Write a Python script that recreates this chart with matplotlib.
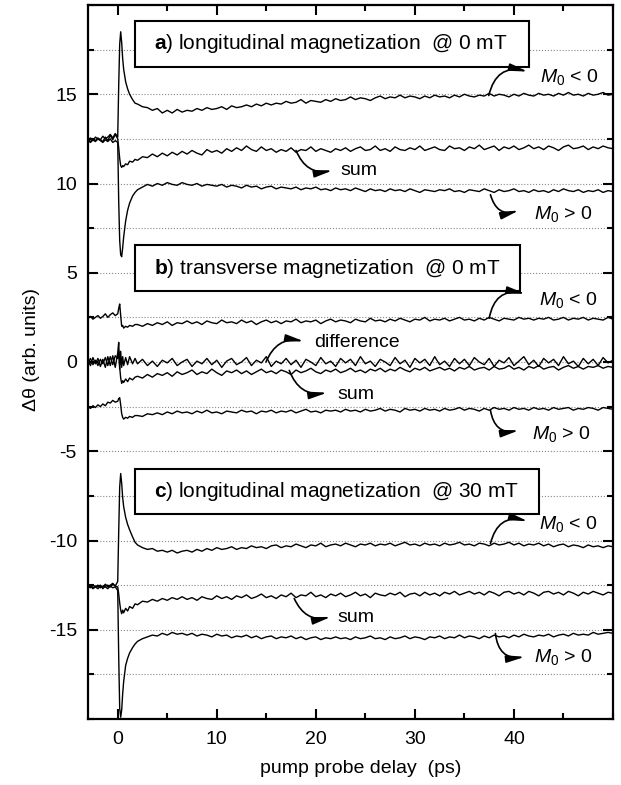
#!/usr/bin/env python3
"""
Kerr rotation vs pump probe delay: longitudinal / transverse magnetization traces.
Writes out.png
"""

import numpy as np
import matplotlib
matplotlib.use('Agg')
import matplotlib.pyplot as plt
from matplotlib.patches import Rectangle, FancyArrowPatch
from matplotlib.ticker import MultipleLocator, FixedLocator

plt.rcParams['font.family'] = ['Liberation Sans', 'DejaVu Sans']
plt.rcParams['mathtext.fontset'] = 'custom'
plt.rcParams['mathtext.rm'] = 'Liberation Sans'
plt.rcParams['mathtext.it'] = 'Liberation Sans:italic'
plt.rcParams['mathtext.bf'] = 'Liberation Sans:bold'
plt.rcParams['axes.unicode_minus'] = False

# delay grid (ps): dense around zero, 0.5 ps steps afterwards
t_early = [-3.0, -2.75, -2.5, -2.25, -2.0, -1.75, -1.5, -1.25, -1.0, -0.75, -0.5, -0.25,
           0.0, 0.1, 0.2, 0.3, 0.4, 0.5, 0.6, 0.8, 1.0, 1.2, 1.5, 1.75]
t_tail = np.arange(2.0, 50.01, 0.5)
delay = np.concatenate([t_early, t_tail])

# --- a) longitudinal @ 0 mT ---
a_neg = [12.45, 12.55, 12.40, 12.60, 12.50, 12.45, 12.65, 12.50, 12.60, 12.75, 12.55, 12.80,
         12.60, 15.50, 17.80, 18.50, 17.90, 17.00, 16.40, 15.70, 15.30, 15.00, 14.70, 14.50,
         14.45, 14.30, 14.25, 14.10, 14.20, 13.95, 14.10, 13.95, 14.15, 14.00,
         14.10, 14.05, 14.20, 14.10, 14.25, 14.15, 14.20, 14.30, 14.15, 14.35,
         14.25, 14.30, 14.40, 14.30, 14.45, 14.35, 14.50, 14.40, 14.50, 14.45,
         14.60, 14.50, 14.55, 14.70, 14.50, 14.65, 14.60, 14.55, 14.70, 14.60,
         14.75, 14.65, 14.70, 14.85, 14.70, 14.80, 14.75, 14.65, 14.80, 14.90,
         14.75, 14.85, 14.80, 14.95, 14.80, 14.90, 14.85, 14.75, 14.90, 14.80,
         14.95, 14.85, 14.90, 14.80, 14.95, 14.85, 15.00, 14.90, 14.85, 14.95,
         14.90, 15.05, 14.90, 15.00, 14.95, 14.85, 15.00, 14.90, 15.05, 14.95,
         14.90, 15.05, 14.95, 15.00, 14.90, 15.05, 14.95, 15.10, 14.95, 15.00,
         14.90, 15.05, 14.95, 15.00, 15.10, 14.95, 15.00]
a_pos = [12.40, 12.30, 12.45, 12.35, 12.50, 12.40, 12.30, 12.45, 12.35, 12.50, 12.30, 12.40,
         12.30, 9.00, 6.80, 6.00, 5.90, 6.40, 7.00, 7.90, 8.50, 8.90, 9.30, 9.50,
         9.65, 9.80, 9.95, 9.85, 10.00, 9.90, 10.05, 9.95, 9.90, 10.05,
         9.95, 9.90, 10.00, 9.85, 9.95, 9.90, 9.85, 9.95, 9.80, 9.90,
         9.85, 9.75, 9.90, 9.80, 9.85, 9.70, 9.80, 9.85, 9.70, 9.80,
         9.75, 9.70, 9.80, 9.65, 9.75, 9.70, 9.80, 9.65, 9.70, 9.60,
         9.75, 9.65, 9.70, 9.60, 9.75, 9.65, 9.55, 9.70, 9.60, 9.65,
         9.55, 9.70, 9.60, 9.65, 9.55, 9.70, 9.60, 9.50, 9.65, 9.60,
         9.55, 9.65, 9.60, 9.70, 9.55, 9.60, 9.50, 9.65, 9.60, 9.55,
         9.70, 9.60, 9.50, 9.65, 9.55, 9.60, 9.70, 9.55, 9.60, 9.50,
         9.65, 9.55, 9.60, 9.50, 9.65, 9.55, 9.70, 9.60, 9.55, 9.65,
         9.50, 9.60, 9.55, 9.65, 9.50, 9.60, 9.55]
a_sum = [12.45, 12.35, 12.50, 12.40, 12.55, 12.45, 12.35, 12.60, 12.40, 12.70, 12.45, 12.75,
         12.50, 12.00, 11.40, 11.00, 10.90, 11.00, 10.95, 11.10, 11.05, 11.25, 11.20, 11.35,
         11.30, 11.50, 11.45, 11.65, 11.50, 11.70, 11.55, 11.75, 11.60, 11.80,
         11.65, 11.85, 11.70, 11.60, 11.90, 11.75, 11.85, 11.70, 11.95, 11.80,
         12.00, 11.85, 12.10, 11.90, 11.80, 12.05, 11.85, 11.95, 11.75, 11.90,
         11.80, 12.00, 11.75, 11.90, 11.85, 12.05, 11.80, 11.95, 11.85, 11.75,
         11.95, 11.85, 12.00, 11.80, 11.95, 12.05, 11.85, 11.90, 12.10, 11.85,
         11.95, 11.80, 12.05, 11.90, 11.85, 12.00, 11.90, 12.10, 11.85, 11.95,
         12.05, 11.90, 11.85, 12.10, 11.95, 12.00, 11.85, 12.05, 11.95, 12.15,
         11.90, 12.00, 12.10, 11.85, 12.05, 11.95, 12.10, 11.90, 12.00, 12.15,
         11.95, 12.05, 11.90, 12.10, 12.00, 11.85, 12.05, 12.15, 11.95, 12.00,
         12.10, 11.90, 12.05, 11.95, 12.10, 12.00, 11.95]

# --- b) transverse @ 0 mT ---
b_neg = [2.45, 2.55, 2.40, 2.50, 2.60, 2.45, 2.55, 2.70, 2.50, 2.65, 2.75, 2.60,
         2.70, 3.00, 3.25, 2.60, 2.00, 2.05, 1.90, 2.00, 1.95, 2.05, 2.00, 2.10,
         2.10, 2.00, 2.15, 2.05, 2.20, 2.10, 2.25, 2.05, 2.20, 2.15,
         2.30, 2.15, 2.25, 2.10, 2.30, 2.20, 2.15, 2.35, 2.20, 2.25,
         2.15, 2.35, 2.20, 2.30, 2.10, 2.25, 2.35, 2.20, 2.30, 2.15,
         2.30, 2.25, 2.40, 2.20, 2.30, 2.25, 2.35, 2.15, 2.30, 2.40,
         2.25, 2.35, 2.30, 2.20, 2.40, 2.30, 2.25, 2.45, 2.30, 2.35,
         2.25, 2.40, 2.30, 2.45, 2.35, 2.25, 2.40, 2.35, 2.50, 2.30,
         2.40, 2.35, 2.45, 2.30, 2.40, 2.50, 2.35, 2.40, 2.30, 2.45,
         2.35, 2.50, 2.40, 2.30, 2.45, 2.40, 2.35, 2.50, 2.40, 2.45,
         2.35, 2.45, 2.40, 2.50, 2.35, 2.40, 2.50, 2.35, 2.45, 2.40,
         2.50, 2.35, 2.45, 2.40, 2.35, 2.50, 2.40]
b_diff = [0.10, -0.20, 0.25, -0.10, 0.20, -0.25, 0.15, -0.30, 0.30, -0.20, 0.35, -0.30,
          0.50, 1.10, -0.40, 0.60, -0.30, 0.30, -0.20, 0.25, -0.15, 0.30, -0.10, 0.20,
          -0.10, 0.15, -0.20, 0.05, -0.25, 0.10, -0.05, 0.20, -0.20, 0.00,
          0.15, -0.25, 0.05, -0.10, 0.20, -0.15, 0.10, -0.30, 0.05, 0.20,
          -0.15, 0.00, 0.25, -0.20, 0.10, -0.05, 0.30, -0.25, 0.05, -0.10,
          0.20, -0.15, 0.10, -0.30, 0.15, 0.00, -0.20, 0.25, -0.10, 0.05,
          -0.25, 0.20, -0.05, 0.15, -0.20, 0.30, -0.10, 0.05, -0.25, 0.15,
          0.00, -0.20, 0.25, -0.10, 0.10, -0.30, 0.20, -0.05, 0.15, -0.20,
          0.30, -0.15, 0.05, -0.25, 0.20, -0.10, 0.15, -0.20, 0.25, 0.00,
          -0.15, 0.20, -0.25, 0.10, -0.05, 0.25, -0.20, 0.05, 0.30, -0.15,
          0.10, -0.25, 0.20, -0.05, 0.15, -0.20, 0.30, -0.10, 0.05, -0.25,
          0.20, -0.10, 0.15, -0.20, 0.25, -0.05, 0.10]
b_sum = [-0.05, 0.20, -0.15, 0.10, -0.20, 0.15, -0.10, 0.25, -0.20, 0.30, -0.15, 0.35,
         0.20, 0.60, -0.30, -0.90, -1.20, -1.05, -1.15, -0.95, -1.10, -0.90, -1.00, -0.85,
         -0.80, -0.90, -0.70, -0.85, -0.65, -0.75, -0.60, -0.80, -0.55, -0.70,
         -0.60, -0.45, -0.70, -0.55, -0.65, -0.40, -0.60, -0.75, -0.50, -0.60,
         -0.45, -0.65, -0.50, -0.70, -0.55, -0.40, -0.60, -0.50, -0.65, -0.45,
         -0.55, -0.70, -0.45, -0.60, -0.50, -0.35, -0.55, -0.65, -0.45, -0.55,
         -0.40, -0.60, -0.50, -0.35, -0.55, -0.45, -0.60, -0.40, -0.50, -0.35,
         -0.55, -0.40, -0.50, -0.30, -0.45, -0.55, -0.35, -0.45, -0.30, -0.50,
         -0.40, -0.30, -0.45, -0.35, -0.50, -0.30, -0.40, -0.25, -0.45, -0.35,
         -0.30, -0.45, -0.25, -0.40, -0.35, -0.20, -0.40, -0.30, -0.45, -0.25,
         -0.35, -0.20, -0.40, -0.30, -0.25, -0.45, -0.30, -0.20, -0.35, -0.25,
         -0.40, -0.25, -0.30, -0.20, -0.35, -0.25, -0.30]
b_pos = [-2.50, -2.60, -2.45, -2.55, -2.40, -2.50, -2.35, -2.45, -2.25, -2.30, -2.15, -2.25,
         -2.20, -2.05, -2.00, -2.40, -2.90, -3.10, -3.20, -3.10, -3.15, -3.05, -3.10, -3.00,
         -3.00, -3.05, -2.90, -2.95, -2.85, -2.95, -2.80, -2.90, -2.75, -2.85,
         -2.80, -2.90, -2.75, -2.85, -2.70, -2.85, -2.80, -2.90, -2.75, -2.80,
         -2.85, -2.70, -2.80, -2.75, -2.90, -2.75, -2.80, -2.70, -2.85, -2.75,
         -2.80, -2.70, -2.85, -2.75, -2.65, -2.80, -2.75, -2.85, -2.70, -2.75,
         -2.70, -2.80, -2.65, -2.75, -2.70, -2.80, -2.65, -2.75, -2.70, -2.60,
         -2.75, -2.65, -2.70, -2.80, -2.60, -2.70, -2.65, -2.75, -2.60, -2.70,
         -2.65, -2.75, -2.60, -2.70, -2.65, -2.55, -2.70, -2.60, -2.65, -2.75,
         -2.60, -2.70, -2.55, -2.65, -2.60, -2.70, -2.55, -2.65, -2.60, -2.70,
         -2.55, -2.65, -2.60, -2.70, -2.55, -2.65, -2.60, -2.55, -2.70, -2.60,
         -2.65, -2.55, -2.60, -2.70, -2.55, -2.60, -2.65]

# --- c) longitudinal @ 30 mT ---
c_neg = [-12.55, -12.65, -12.50, -12.60, -12.70, -12.55, -12.60, -12.45, -12.60, -12.50, -12.40, -12.55,
         -12.30, -9.50, -7.00, -6.25, -6.80, -7.60, -8.10, -8.70, -9.10, -9.40, -9.80, -10.10,
         -10.25, -10.40, -10.50, -10.45, -10.60, -10.55, -10.65, -10.55, -10.70, -10.60,
         -10.55, -10.65, -10.50, -10.60, -10.45, -10.55, -10.40, -10.50, -10.45, -10.35,
         -10.50, -10.40, -10.45, -10.30, -10.40, -10.35, -10.45, -10.30, -10.25, -10.40,
         -10.30, -10.35, -10.20, -10.30, -10.40, -10.25, -10.30, -10.15, -10.35, -10.25,
         -10.20, -10.30, -10.15, -10.25, -10.35, -10.20, -10.25, -10.15, -10.30, -10.20,
         -10.25, -10.15, -10.30, -10.20, -10.10, -10.25, -10.20, -10.30, -10.15, -10.25,
         -10.20, -10.30, -10.15, -10.25, -10.20, -10.10, -10.25, -10.20, -10.30, -10.15,
         -10.20, -10.30, -10.15, -10.25, -10.20, -10.10, -10.25, -10.15, -10.30, -10.20,
         -10.25, -10.15, -10.30, -10.20, -10.35, -10.25, -10.20, -10.35, -10.25, -10.30,
         -10.40, -10.25, -10.35, -10.30, -10.40, -10.30, -10.35]
c_sum = [-12.60, -12.50, -12.65, -12.55, -12.60, -12.50, -12.70, -12.55, -12.50, -12.60, -12.45, -12.55,
         -12.60, -13.00, -13.50, -13.90, -14.10, -13.90, -14.05, -13.80, -13.95, -13.70, -13.80, -13.55,
         -13.60, -13.40, -13.45, -13.30, -13.40, -13.25, -13.35, -13.20, -13.30, -13.15,
         -13.30, -13.20, -13.35, -13.15, -13.25, -13.30, -13.10, -13.25, -13.15, -13.30,
         -13.10, -13.20, -13.05, -13.25, -13.15, -13.00, -13.20, -13.10, -13.25, -13.05,
         -13.15, -12.95, -13.20, -13.05, -13.10, -12.90, -13.15, -13.05, -13.20, -13.00,
         -13.10, -12.95, -13.15, -13.05, -12.90, -13.10, -13.00, -13.20, -12.95, -13.05,
         -13.10, -12.95, -13.05, -12.90, -13.15, -13.00, -12.95, -13.10, -12.90, -13.05,
         -12.95, -13.10, -12.90, -13.00, -12.85, -13.05, -12.95, -12.85, -13.00, -12.90,
         -13.05, -12.85, -12.95, -13.10, -12.90, -12.85, -13.00, -12.90, -13.05, -12.85,
         -12.95, -13.10, -12.90, -12.85, -13.00, -12.90, -13.05, -12.85, -12.95, -13.10,
         -12.90, -13.00, -12.85, -12.95, -13.05, -12.90, -12.95]
c_pos = [-12.65, -12.55, -12.70, -12.60, -12.50, -12.65, -12.55, -12.60, -12.70, -12.55, -12.65, -12.60,
         -12.80, -16.50, -19.40, -19.90, -19.50, -18.60, -17.90, -17.00, -16.60, -16.30, -16.00, -15.80,
         -15.65, -15.50, -15.40, -15.30, -15.35, -15.20, -15.30, -15.15, -15.25, -15.20,
         -15.30, -15.20, -15.35, -15.25, -15.30, -15.40, -15.25, -15.35, -15.30, -15.45,
         -15.35, -15.40, -15.30, -15.45, -15.35, -15.50, -15.40, -15.35, -15.50, -15.40,
         -15.45, -15.35, -15.50, -15.40, -15.55, -15.45, -15.40, -15.55, -15.45, -15.50,
         -15.40, -15.50, -15.45, -15.55, -15.40, -15.50, -15.45, -15.35, -15.50, -15.45,
         -15.55, -15.40, -15.50, -15.45, -15.35, -15.50, -15.40, -15.45, -15.55, -15.40,
         -15.45, -15.35, -15.50, -15.40, -15.45, -15.30, -15.45, -15.35, -15.40, -15.50,
         -15.35, -15.45, -15.30, -15.40, -15.35, -15.45, -15.30, -15.40, -15.25, -15.35,
         -15.40, -15.30, -15.35, -15.25, -15.40, -15.30, -15.25, -15.35, -15.20, -15.30,
         -15.25, -15.30, -15.15, -15.25, -15.20, -15.15, -15.20]

traces = [a_neg, a_pos, a_sum, b_neg, b_diff, b_sum, b_pos, c_neg, c_sum, c_pos]

x_ticks = [0, 10, 20, 30, 40]
y_ticks = [-15, -10, -5, 0, 5, 10, 15]

# panel titles: (text, x0, x1, y0, y1) in data units
panel_titles = [
    (r'$\mathbf{a}$) longitudinal magnetization  @ 0 mT', 1.71, 41.5, 16.55, 19.13),
    (r'$\mathbf{b}$) transverse magnetization  @ 0 mT', 1.71, 40.65, 3.96, 6.53),
    (r'$\mathbf{c}$) longitudinal magnetization  @ 30 mT', 1.71, 42.57, -8.49, -5.97),
]

M_NEG = r'$M_{\mathrm{0}}$ < 0'
M_POS = r'$M_{\mathrm{0}}$ > 0'
# labels: (text, text x, text baseline y, arrow start, arrow tip, curvature)
labels = [
    (M_NEG, 42.6, 15.68, (37.46, 14.93), (41.4, 16.27), -0.5),
    ('sum', 22.5, 10.47, (18.0, 11.85), (21.7, 10.73), 0.4),
    (M_POS, 42.0, 8.0, (37.63, 9.37), (40.5, 8.49), 0.5),
    (M_NEG, 42.5, 3.19, (37.5, 2.45), (41.15, 3.83), -0.5),
    ('difference', 19.8, 0.84, (14.97, 0.0), (18.8, 1.16), -0.4),
    ('sum', 22.15, -2.07, (17.32, -0.47), (21.15, -1.72), 0.4),
    (M_POS, 41.8, -4.31, (37.63, -2.71), (40.5, -3.83), 0.5),
    (M_NEG, 42.5, -9.35, (37.63, -10.17), (41.4, -8.92), -0.5),
    ('sum', 22.15, -14.56, (17.82, -13.25), (21.52, -14.28), 0.4),
    (M_POS, 42.0, -16.8, (38.13, -15.21), (41.1, -16.52), 0.5),
]

fig = plt.figure(figsize=(6.21, 7.85), dpi=100)
ax = fig.add_axes([88 / 621, 66 / 785, 525 / 621, 714 / 785])

for y in traces:
    ax.plot(delay, y, color='black', lw=1.0, zorder=2)

for text, x0, x1, y0, y1 in panel_titles:
    ax.add_patch(Rectangle((x0, y0), x1 - x0, y1 - y0, facecolor='white',
                           edgecolor='black', lw=1.5, zorder=4))
    ax.text(x0 + 2.0, (y0 + y1) / 2 - 0.32, text, fontsize=15, ha='left',
            va='baseline', zorder=5)

for text, tx, ty, start, tip, rad in labels:
    ax.text(tx, ty, text, fontsize=14, ha='left', va='baseline', zorder=5)
    arr = FancyArrowPatch(start, tip, connectionstyle=f'arc3,rad={rad}',
                          arrowstyle='-|>,head_length=0.9,head_width=0.18',
                          mutation_scale=12, color='black', lw=1.2,
                          shrinkA=0, shrinkB=0, zorder=5)
    ax.add_patch(arr)

ax.set_xlim(-3, 50)
ax.set_ylim(-20, 20)
ax.xaxis.set_major_locator(FixedLocator(x_ticks))
ax.xaxis.set_minor_locator(MultipleLocator(5))
ax.yaxis.set_major_locator(FixedLocator(y_ticks))
ax.yaxis.set_minor_locator(MultipleLocator(2.5))
ax.tick_params(which='both', direction='in', top=True, right=True, width=1.5,
               labelsize=14)
ax.tick_params(which='major', length=7)
ax.tick_params(which='minor', length=4)
ax.tick_params(axis='y', pad=8)
ax.tick_params(axis='x', pad=9)
ax.grid(axis='y', which='both', linestyle=':', color='#888888', lw=0.8, zorder=1)
ax.set_axisbelow(True)
for s in ax.spines.values():
    s.set_linewidth(1.6)

ax.set_xlabel('pump probe delay  (ps)', fontsize=14)
ax.xaxis.set_label_coords((361 - 88) / 525, (719 - 760) / 714)
ax.set_ylabel('\u0394\u03b8 (arb. units)', fontsize=14)
ax.yaxis.set_label_coords((40 - 88) / 525, (719 - 350) / 714)

plt.savefig('out.png', dpi=100)
